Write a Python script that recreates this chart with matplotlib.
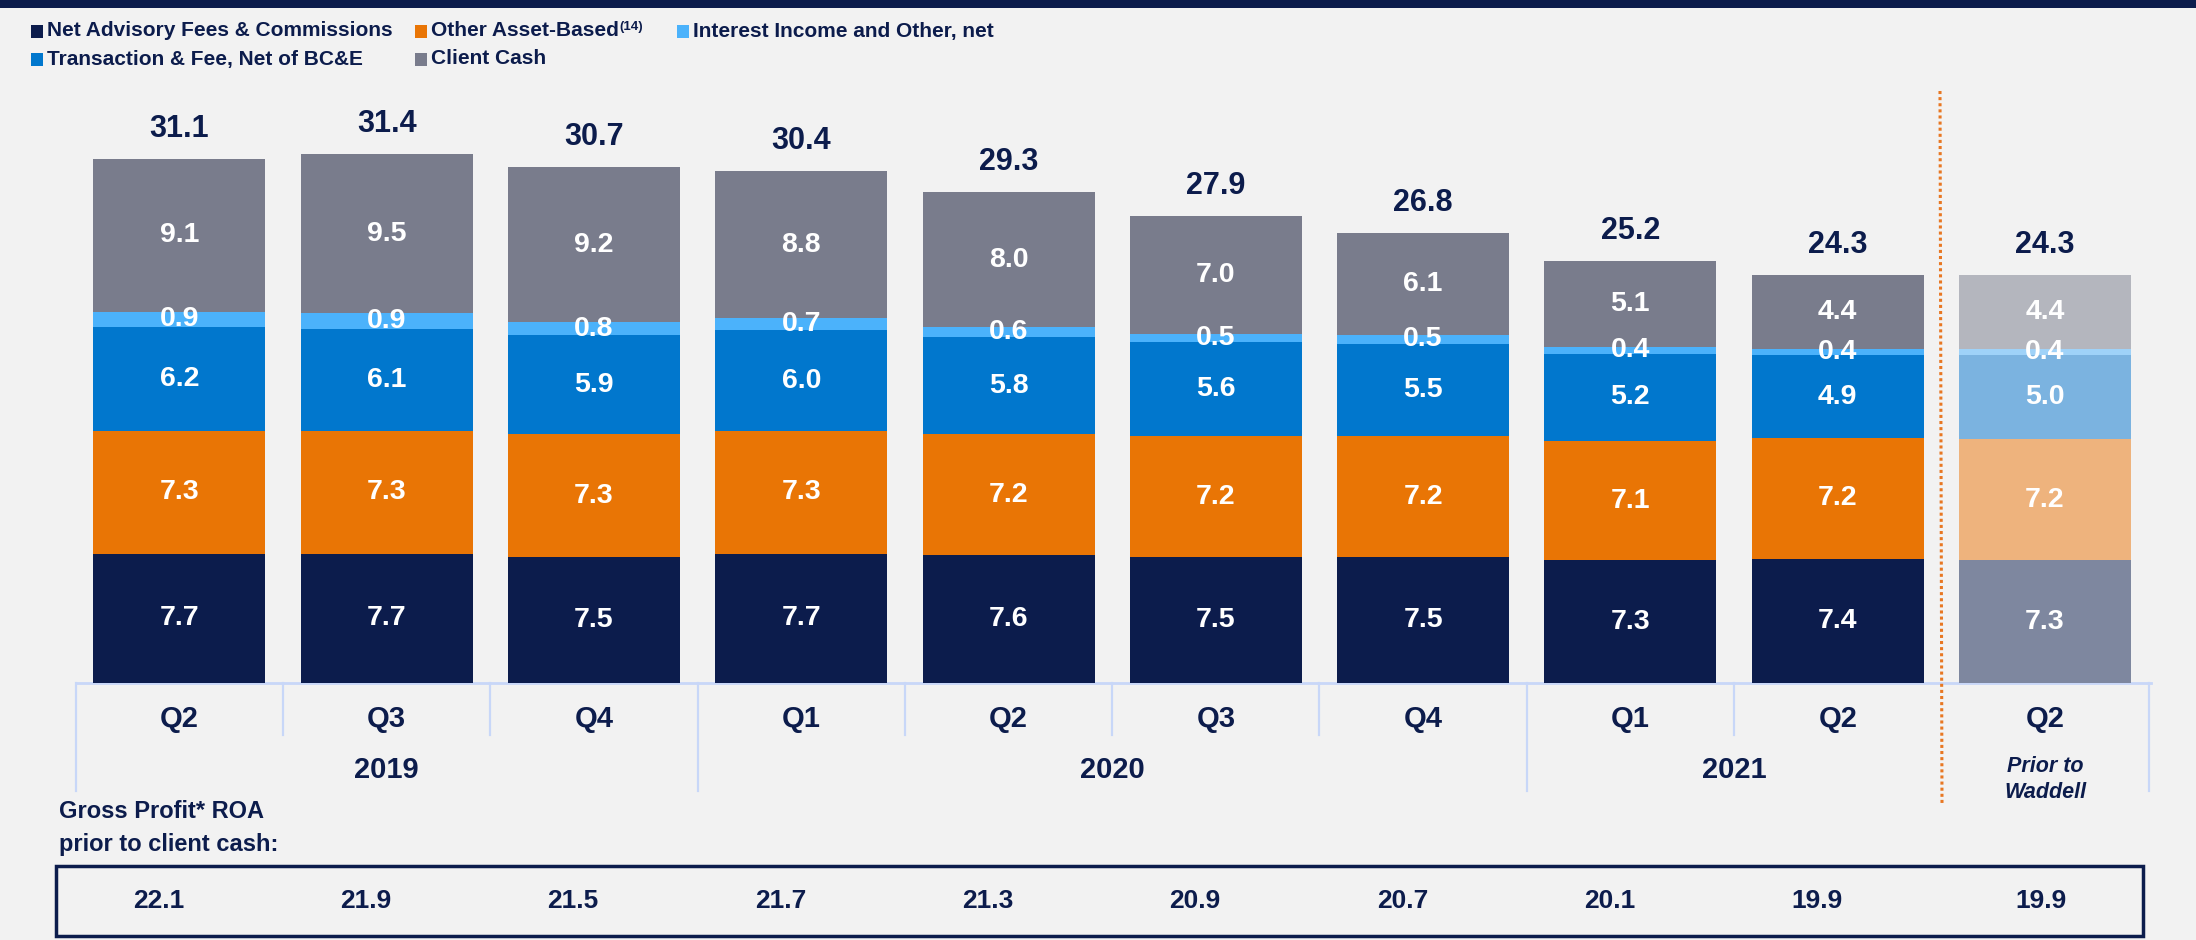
import matplotlib
matplotlib.use('Agg')
import matplotlib.pyplot as plt
from matplotlib.patches import Rectangle
import numpy as np

# -- Data: gross profit ROA by component (bps) --
quarters = ['Q2', 'Q3', 'Q4', 'Q1', 'Q2', 'Q3', 'Q4', 'Q1', 'Q2', 'Q2']
years = ['2019', '2020', '2021']
year_spans = [(0, 2), (3, 6), (7, 8)]

net_advisory = [7.7, 7.7, 7.5, 7.7, 7.6, 7.5, 7.5, 7.3, 7.4, 7.3]
other_asset = [7.3, 7.3, 7.3, 7.3, 7.2, 7.2, 7.2, 7.1, 7.2, 7.2]
transaction = [6.2, 6.1, 5.9, 6.0, 5.8, 5.6, 5.5, 5.2, 4.9, 5.0]
interest = [0.9, 0.9, 0.8, 0.7, 0.6, 0.5, 0.5, 0.4, 0.4, 0.4]
client_cash = [9.1, 9.5, 9.2, 8.8, 8.0, 7.0, 6.1, 5.1, 4.4, 4.4]
totals = [31.1, 31.4, 30.7, 30.4, 29.3, 27.9, 26.8, 25.2, 24.3, 24.3]
roa_ex_cash = [22.1, 21.9, 21.5, 21.7, 21.3, 20.9, 20.7, 20.1, 19.9, 19.9]

# -- Styling --
BG = '#F2F2F2'
NAVY = '#0C1C4C'
ORANGE = '#E97505'
BLUE = '#0177CD'
LIGHT_BLUE = '#4BB2FB'
GRAY = '#797C8C'
AXIS_LINE = '#C8D7F8'
DOT_ORANGE = '#E87722'
# faded colours for the "Prior to Waddell" bar
FADED = {NAVY: '#7E879F', ORANGE: '#EEB37D', BLUE: '#7BB3E0',
         LIGHT_BLUE: '#9FD2F8', GRAY: '#B4B6BE'}

FONT = ['Liberation Sans', 'DejaVu Sans']

W, H = 2196, 940
X0, DX = 179.3, 207.3      # first bar centre / bar spacing (px)
BASE, PPU = 683, 16.8      # bar baseline (px from top) / px per unit


def yd(py):
    return (BASE - py) / PPU


fig = plt.figure(figsize=(W / 100, H / 100), dpi=100)
fig.patch.set_facecolor(BG)

# overlay axes in pixel coordinates for the slide furniture
lay = fig.add_axes([0, 0, 1, 1])
lay.set_xlim(0, W)
lay.set_ylim(H, 0)
lay.axis('off')

ax = fig.add_axes([0, 0, 1, 1])
ax.set_xlim(-X0 / DX, (W - X0) / DX)
ax.set_ylim(-(H - BASE) / PPU, BASE / PPU)
ax.axis('off')
ax.patch.set_alpha(0)

# top banner
lay.add_patch(Rectangle((0, 0), W, 7.5, color=NAVY, lw=0))

# -- Stacked bars --
x = np.arange(len(quarters))
series = [net_advisory, other_asset, transaction, interest, client_cash]
colors = [NAVY, ORANGE, BLUE, LIGHT_BLUE, GRAY]
bottom = np.zeros(len(x))
for vals, col in zip(series, colors):
    vals = np.array(vals)
    bar_cols = [col] * (len(x) - 1) + [FADED[col]]
    ax.bar(x, vals, bottom=bottom, width=172 / DX, color=bar_cols,
           edgecolor='none', zorder=2)
    for xi, b, v in zip(x, bottom, vals):
        ax.text(xi, b + v / 2, f'{v:.1f}', ha='center', va='center',
                color='white', fontsize=20.5, fontweight='bold', family=FONT,
                zorder=3)
    bottom += vals

for xi, top, t in zip(x, bottom, totals):
    ax.annotate(f'{t:.1f}', (xi, top), xytext=(0, 30),
                textcoords='offset pixels', ha='center', va='center',
                color=NAVY, fontsize=22, fontweight='bold', family=FONT)

# -- Category axis --
lay.plot([77, 2151], [BASE, BASE], color=AXIS_LINE, lw=2, zorder=1)
long_seps = [-0.5, 2.5, 6.5, 9.5]
short_seps = [0.5, 1.5, 3.5, 4.5, 5.5, 7.5]
for s in long_seps:
    px = X0 + DX * s
    lay.plot([px, px], [BASE, 791], color=AXIS_LINE, lw=1.6)
for s in short_seps:
    px = X0 + DX * s
    lay.plot([px, px], [BASE, 735], color=AXIS_LINE, lw=1.6)

lay.plot([1940, 1942], [91, 805], color=DOT_ORANGE, lw=2.2,
         linestyle=(0, (1, 1)), zorder=4)

for xi, q in zip(x, quarters):
    ax.text(xi, yd(719), q, ha='center', va='center', color=NAVY,
            fontsize=21, fontweight='bold', family=FONT)
for yr, (a, b) in zip(years, year_spans):
    ax.text((a + b) / 2, yd(770), yr, ha='center', va='center', color=NAVY,
            fontsize=21, fontweight='bold', family=FONT)
ax.text(x[-1], yd(767), 'Prior to', ha='center', va='center', color=NAVY,
        fontsize=15.5, fontweight='bold', style='italic', family=FONT)
ax.text(x[-1], yd(793), 'Waddell', ha='center', va='center', color=NAVY,
        fontsize=15.5, fontweight='bold', style='italic', family=FONT)

# -- ROA prior to client cash row --
lay.text(59, 812, 'Gross Profit* ROA', ha='left', va='center', color=NAVY,
         fontsize=17, fontweight='bold', family=FONT)
lay.text(59, 845, 'prior to client cash:', ha='left', va='center',
         color=NAVY, fontsize=17, fontweight='bold', family=FONT)
lay.add_patch(Rectangle((56, 866), 2087, 70, fill=False, edgecolor=NAVY,
                        lw=2.5))
for i, (xi, r) in enumerate(zip(x, roa_ex_cash)):
    off = -0.1 if i < len(x) - 1 else -0.02
    ax.text(xi + off, yd(901), f'{r:.1f}', ha='center', va='center',
            color=NAVY, fontsize=19, fontweight='bold', family=FONT)

# -- Legend --
legend_items = [
    (31, 31, NAVY, 'Net Advisory Fees & Commissions'),
    (415, 31, ORANGE, 'Other Asset-Based'),
    (677, 31, LIGHT_BLUE, 'Interest Income and Other, net'),
    (31, 59, BLUE, 'Transaction & Fee, Net of BC&E'),
    (415, 59, GRAY, 'Client Cash'),
]
renderer = fig.canvas.get_renderer()
for lx, ly, col, label in legend_items:
    lay.add_patch(Rectangle((lx, ly - 6.5), 12, 13, color=col, lw=0))
    t = lay.text(lx + 16, ly, label, ha='left', va='center', color=NAVY,
                 fontsize=15, fontweight='bold', family=FONT)
    if label == 'Other Asset-Based':
        bb = t.get_window_extent(renderer=renderer)
        lay.text(bb.x1 + 1, ly - 4, '(14)', ha='left', va='center',
                 color=NAVY, fontsize=9.5, fontweight='bold', family=FONT)

fig.savefig('out.png', dpi=100, facecolor=BG)
plt.close()
